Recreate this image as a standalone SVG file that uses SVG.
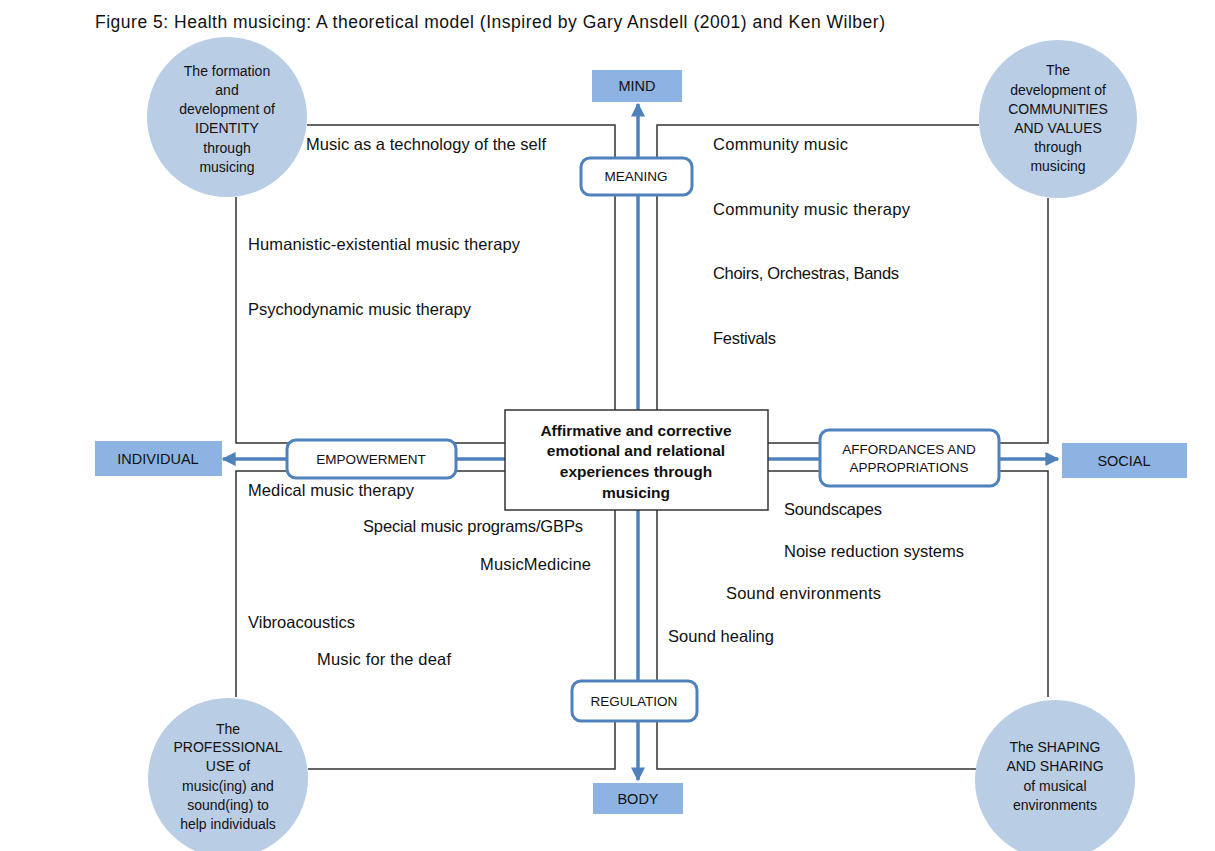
<svg xmlns="http://www.w3.org/2000/svg" width="1215" height="851" viewBox="0 0 1215 851">
<defs>
<marker id="ah" viewBox="0 0 10 10" refX="9" refY="5" markerWidth="4" markerHeight="4" orient="auto" markerUnits="strokeWidth">
<path d="M0,0 L10,5 L0,10 z" fill="#4F81BD"/>
</marker>
<style>
text{font-family:"Liberation Sans",Arial,sans-serif;fill:#111;}
.t{font-size:17.5px;}
.lbl{font-size:16.5px;}
.c{font-size:14px;text-anchor:middle;}
.b{font-size:13.5px;text-anchor:middle;}
.ctr{font-size:15.5px;font-weight:bold;text-anchor:middle;}
.frame{fill:none;stroke:#333;stroke-width:1.5;}
.blue{fill:none;stroke:#4F81BD;stroke-width:3.5;}
.circ{fill:#B9CDE5;}
.pole{fill:#8DB3E2;}
.rbox{fill:#fff;stroke:#4F81BD;stroke-width:3;}
</style>
</defs>
<rect width="1215" height="851" fill="#fff"/>
<text class="t" x="95" y="28" textLength="790">Figure 5: Health musicing: A theoretical model (Inspired by Gary Ansdell (2001) and Ken Wilber)</text>

<g id="connectors">
<polyline class="frame" points="307,125 615,125 615,411"/>
<polyline class="frame" points="236,197 236,443 505,443"/>
<polyline class="frame" points="979,125 657,125 657,411"/>
<polyline class="frame" points="1048,198 1048,443 768,443"/>
<polyline class="frame" points="236,697 236,471 505,471"/>
<polyline class="frame" points="308,769 615,769 615,510"/>
<polyline class="frame" points="1048,697 1048,471 768,471"/>
<polyline class="frame" points="976,769 657,769 657,510"/>
<line class="blue" x1="638" y1="440" x2="638" y2="104" marker-end="url(#ah)"/>
<line class="blue" x1="638" y1="480" x2="638" y2="780" marker-end="url(#ah)"/>
<line class="blue" x1="636" y1="459" x2="223" y2="459" marker-end="url(#ah)"/>
<line class="blue" x1="636" y1="459" x2="1058" y2="459" marker-end="url(#ah)"/>
</g>

<g id="circle-identity">
<circle class="circ" cx="227" cy="117" r="80"/>
<text class="c" x="227" y="76">The formation</text>
<text class="c" x="227" y="95">and</text>
<text class="c" x="227" y="114">development of</text>
<text class="c" x="227" y="133">IDENTITY</text>
<text class="c" x="227" y="153">through</text>
<text class="c" x="227" y="172">musicing</text>
</g>
<g id="circle-communities">
<circle class="circ" cx="1058" cy="119" r="79"/>
<text class="c" x="1058" y="75">The</text>
<text class="c" x="1058" y="95">development of</text>
<text class="c" x="1058" y="114">COMMUNITIES</text>
<text class="c" x="1058" y="133">AND VALUES</text>
<text class="c" x="1058" y="152">through</text>
<text class="c" x="1058" y="171">musicing</text>
</g>
<g id="circle-professional">
<circle class="circ" cx="228" cy="778" r="80"/>
<text class="c" x="228" y="734">The</text>
<text class="c" x="228" y="752">PROFESSIONAL</text>
<text class="c" x="228" y="771">USE of</text>
<text class="c" x="228" y="791">music(ing) and</text>
<text class="c" x="228" y="810">sound(ing) to</text>
<text class="c" x="228" y="829">help individuals</text>
</g>
<g id="circle-shaping">
<circle class="circ" cx="1055" cy="780" r="80"/>
<text class="c" x="1055" y="752">The SHAPING</text>
<text class="c" x="1055" y="771">AND SHARING</text>
<text class="c" x="1055" y="791">of musical</text>
<text class="c" x="1055" y="810">environments</text>
</g>

<g id="mind">
<rect class="pole" x="592" y="70" width="90" height="32"/>
<text class="b" x="637" y="91" style="font-size:14.5px">MIND</text>
</g>
<g id="body">
<rect class="pole" x="593" y="783" width="90" height="31"/>
<text class="b" x="638" y="804" style="font-size:14.5px">BODY</text>
</g>
<g id="individual">
<rect class="pole" x="95" y="441" width="127" height="35"/>
<text class="b" x="158" y="464" style="font-size:14.5px">INDIVIDUAL</text>
</g>
<g id="social">
<rect class="pole" x="1062" y="443" width="125" height="35"/>
<text class="b" x="1124" y="466" style="font-size:14.5px">SOCIAL</text>
</g>

<g id="meaning">
<rect class="rbox" x="581" y="158" width="111" height="37" rx="9"/>
<text class="b" x="636" y="181">MEANING</text>
</g>
<g id="regulation">
<rect class="rbox" x="572" y="681" width="125" height="40" rx="9"/>
<text class="b" x="634" y="706">REGULATION</text>
</g>
<g id="empowerment">
<rect class="rbox" x="287" y="440" width="169" height="38" rx="9"/>
<text class="b" x="371" y="464">EMPOWERMENT</text>
</g>
<g id="affordances">
<rect class="rbox" x="820" y="430" width="179" height="56" rx="9"/>
<text class="b" x="909" y="454">AFFORDANCES AND</text>
<text class="b" x="909" y="472">APPROPRIATIONS</text>
</g>

<g id="center">
<rect x="505" y="410" width="263" height="100" fill="#fff" stroke="#333" stroke-width="1.5"/>
<text class="ctr" x="636" y="436">Affirmative and corrective</text>
<text class="ctr" x="636" y="456">emotional and relational</text>
<text class="ctr" x="636" y="477">experiences through</text>
<text class="ctr" x="636" y="498">musicing</text>
</g>

<g id="labels">
<text class="lbl" x="306" y="150" textLength="240">Music as a technology of the self</text>
<text class="lbl" x="713" y="150" textLength="135">Community music</text>
<text class="lbl" x="713" y="215" textLength="197">Community music therapy</text>
<text class="lbl" x="248" y="250" textLength="272">Humanistic-existential music therapy</text>
<text class="lbl" x="713" y="279" textLength="186">Choirs, Orchestras, Bands</text>
<text class="lbl" x="248" y="315" textLength="223">Psychodynamic music therapy</text>
<text class="lbl" x="713" y="344" textLength="63">Festivals</text>
<text class="lbl" x="248" y="496" textLength="166">Medical music therapy</text>
<text class="lbl" x="363" y="532" textLength="220">Special music programs/GBPs</text>
<text class="lbl" x="784" y="515" textLength="98">Soundscapes</text>
<text class="lbl" x="480" y="570" textLength="111">MusicMedicine</text>
<text class="lbl" x="784" y="557" textLength="180">Noise reduction systems</text>
<text class="lbl" x="726" y="599" textLength="155">Sound environments</text>
<text class="lbl" x="248" y="628" textLength="107">Vibroacoustics</text>
<text class="lbl" x="668" y="642" textLength="106">Sound healing</text>
<text class="lbl" x="317" y="665" textLength="134">Music for the deaf</text>
</g>
</svg>
